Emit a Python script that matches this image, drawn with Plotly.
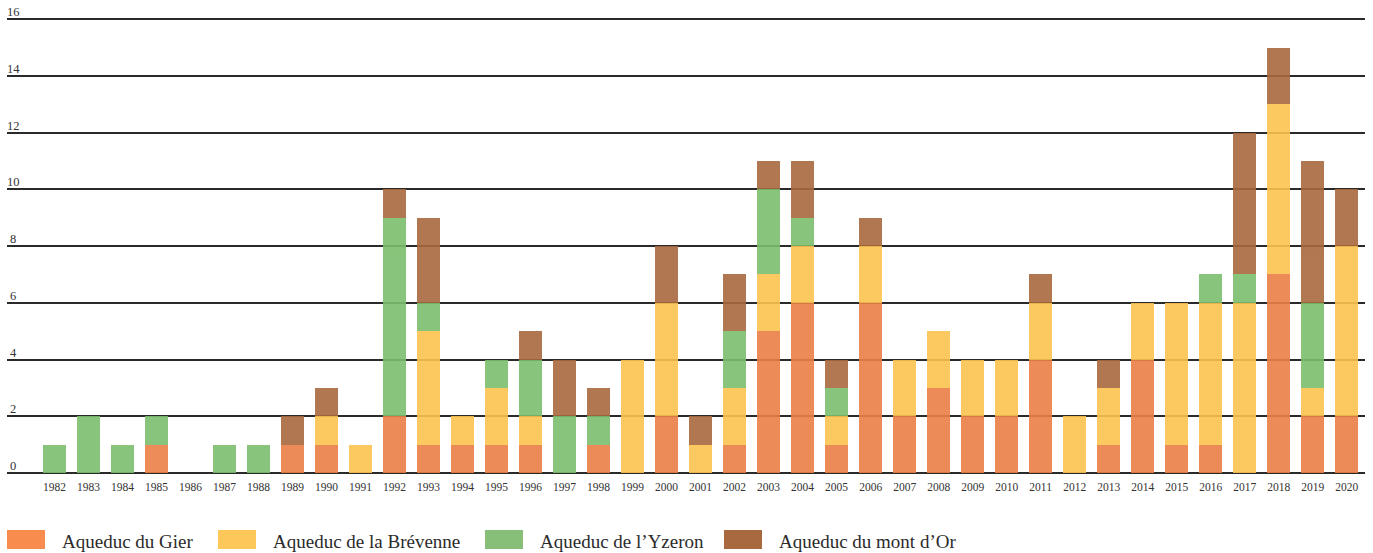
import plotly.graph_objects as go

years = list(range(1982, 2021))

gier = [0, 0, 0, 1, 0, 0, 0, 1, 1, 0, 2, 1, 1, 1, 1, 0, 1, 0, 2, 0,
        1, 5, 6, 1, 6, 2, 3, 2, 2, 4, 0, 1, 4, 1, 1, 0, 7, 2, 2]
brevenne = [0, 0, 0, 0, 0, 0, 0, 0, 1, 1, 0, 4, 1, 2, 1, 0, 0, 4, 4, 1,
            2, 2, 2, 1, 2, 2, 2, 2, 2, 2, 2, 2, 2, 5, 5, 6, 6, 1, 6]
yzeron = [1, 2, 1, 1, 0, 1, 1, 0, 0, 0, 7, 1, 0, 1, 2, 2, 1, 0, 0, 0,
          2, 3, 1, 1, 0, 0, 0, 0, 0, 0, 0, 0, 0, 0, 1, 1, 0, 3, 0]
montdor = [0, 0, 0, 0, 0, 0, 0, 1, 1, 0, 1, 3, 0, 0, 1, 2, 1, 0, 2, 1,
           2, 1, 2, 1, 1, 0, 0, 0, 0, 1, 0, 1, 0, 0, 0, 5, 2, 5, 2]

y_ticks = [0, 2, 4, 6, 8, 10, 12, 14, 16]

series_names = ["Aqueduc du Gier", "Aqueduc de la Brévenne",
                "Aqueduc de l’Yzeron", "Aqueduc du mont d’Or"]
series_values = [gier, brevenne, yzeron, montdor]
colors = ["#EB7F47", "#FCC44F", "#7CBE6D", "#A8693F"]
legend_colors = ["#F78C4E", "#FEC75A", "#88BF78", "#A8693F"]

FONT = "Liberation Serif, Times New Roman, serif"

fig = go.Figure()
for name, vals, col in zip(series_names, series_values, colors):
    fig.add_trace(go.Bar(
        x=years, y=vals, name=name, width=0.67,
        marker=dict(color=col, line=dict(width=0)),
        opacity=0.9, showlegend=False,
    ))

W, H = 1373, 553
Y_TOP = 16.5
unit = (473 - 19) / 16.0
ML, MR, MB = 7, 8, 80
MT = 473 - Y_TOP * unit
pw = W - ML - MR
ph = H - MT - MB


def px_x(px):
    return (px - ML) / pw


def px_y(py):
    return (H - MB - py) / ph


shapes = []
annotations = []
sw_x = [7, 218, 485, 724]
tx_x = [60, 271, 538, 777]
for i, name in enumerate(series_names):
    shapes.append(dict(
        type="rect", xref="paper", yref="paper",
        x0=px_x(sw_x[i]), x1=px_x(sw_x[i] + 38),
        y0=px_y(549), y1=px_y(530),
        fillcolor=legend_colors[i], line=dict(width=0),
    ))
    annotations.append(dict(
        xref="paper", yref="paper", x=px_x(tx_x[i]), y=px_y(542),
        xanchor="left", yanchor="middle", showarrow=False,
        text=name, font=dict(family=FONT, size=19, color="#2b2b2b"),
    ))

for v in y_ticks:
    annotations.append(dict(
        xref="paper", yref="y", x=px_x(13), y=v,
        xanchor="center", yanchor="bottom", yshift=-2, showarrow=False,
        text=str(v), font=dict(family=FONT, size=12.5, color="#333333"),
    ))

fig.update_layout(
    width=W, height=H,
    margin=dict(l=ML, r=MR, t=MT, b=MB, pad=0),
    barmode="stack",
    plot_bgcolor="white", paper_bgcolor="white",
    font=dict(family=FONT, color="#333333"),
    shapes=shapes, annotations=annotations,
    showlegend=False,
    xaxis=dict(
        range=[1980.6, 2020.54], tickmode="array", tickvals=years,
        ticktext=[str(y) for y in years], tickangle=0,
        showgrid=False, zeroline=False, showline=False, ticks="",
        ticklabelstandoff=5,
        tickfont=dict(family=FONT, size=11.5, color="#333333"),
    ),
    yaxis=dict(
        range=[0, Y_TOP], tickmode="array", tickvals=y_ticks,
        showgrid=True, gridcolor="#2a2a2a", gridwidth=1.6,
        zeroline=True, zerolinecolor="#2a2a2a", zerolinewidth=1.6,
        showline=False, ticks="", showticklabels=False,
    ),
)

fig.write_html("out.html", config={"displayModeBar": False},
               post_script="document.body.style.margin='0px';")
